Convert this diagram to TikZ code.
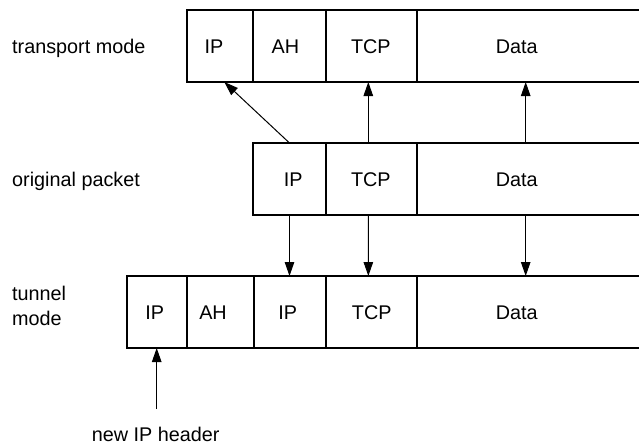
\documentclass[tikz,border=0pt]{standalone}
\usepackage{fontspec}
\setmainfont{Liberation Sans}
\usetikzlibrary{arrows.meta,calc}
\begin{document}
\begin{tikzpicture}[x=1pt,y=-1pt,
  cell/.style={draw,line width=2pt,inner sep=0pt,outer sep=0pt,minimum height=72pt},
  txt/.style={inner sep=0pt,anchor=base,font=\fontsize{19.8}{25}\selectfont},
  lbl/.style={inner sep=0pt,anchor=base west,font=\fontsize{19.8}{25}\selectfont,align=left},
  arr/.style={-{Triangle[length=14pt,width=9.5pt]},line width=1pt}]
\useasboundingbox (0,0) rectangle (639,444);
\clip (0,0) rectangle (639,444);
% transport mode row
\node[cell,minimum width=66.6pt] (tIP) at (220,46) {};
\node[cell,minimum width=72.4pt] (tAH) at (289.5,46) {};
\node[cell,minimum width=91pt] (tTCP) at (371.2,46) {};
\node[cell,minimum width=303.3pt] (tData) at (568.35,46) {};
\node[txt] (tIPt) at (214,53) {IP};
\node[txt] (tAHt) at (285.3,53) {AH};
\node[txt] (tTCPt) at (370.8,53) {TCP};
\node[txt] (tDatat) at (516.7,53) {Data};
% original packet row
\node[cell,minimum width=72.4pt] (oIP) at (289.5,179) {};
\node[cell,minimum width=91pt] (oTCP) at (371.2,179) {};
\node[cell,minimum width=303.3pt] (oData) at (568.35,179) {};
\node[txt] (oIPt) at (293.3,186) {IP};
\node[txt] (oTCPt) at (370.8,186) {TCP};
\node[txt] (oDatat) at (516.7,186) {Data};
% tunnel mode row
\node[cell,minimum width=60.3pt] (nIP) at (156.85,312) {};
\node[cell,minimum width=66.7pt] (nAH) at (220.35,312) {};
\node[cell,minimum width=72.3pt] (nIP2) at (289.85,312) {};
\node[cell,minimum width=90.7pt] (nTCP) at (371.35,312) {};
\node[cell,minimum width=303.3pt] (nData) at (568.35,312) {};
\node[txt] (nIPt) at (154.8,319) {IP};
\node[txt] (nAHt) at (213,319) {AH};
\node[txt] (nIP2t) at (287.8,319) {IP};
\node[txt] (nTCPt) at (371.7,319) {TCP};
\node[txt] (nDatat) at (516.7,319) {Data};
% row labels
\node[lbl] (ltrans) at (12,53) {transport mode};
\node[lbl] (lorig) at (12,186.5) {original packet};
\node[lbl] (ltun) at (12,325.7) {tunnel\\mode};
\node[lbl] (lnew) at (91.7,441) {new IP header};
% arrows
\coordinate (dx) at (525.7,0);
\coordinate (nipfoot) at (156.7,409);
\draw[arr] (oIP.north) -- ($(tIP.south)+(4.3,0)$);
\draw[arr] ($(oTCP.north)+(-2.9,0)$) -- ($(tTCP.south)+(-2.9,0)$);
\draw[arr] (dx |- oData.north) -- (dx |- tData.south);
\draw[arr] (oIP.south) -- (oIP.south |- nIP2.north);
\draw[arr] ($(oTCP.south)+(-2.9,0)$) -- ($(nTCP.north)+(-3,0)$);
\draw[arr] (dx |- oData.south) -- (dx |- nData.north);
\draw[arr] (nipfoot) -- (nipfoot |- nIP.south);
\end{tikzpicture}
\end{document}
